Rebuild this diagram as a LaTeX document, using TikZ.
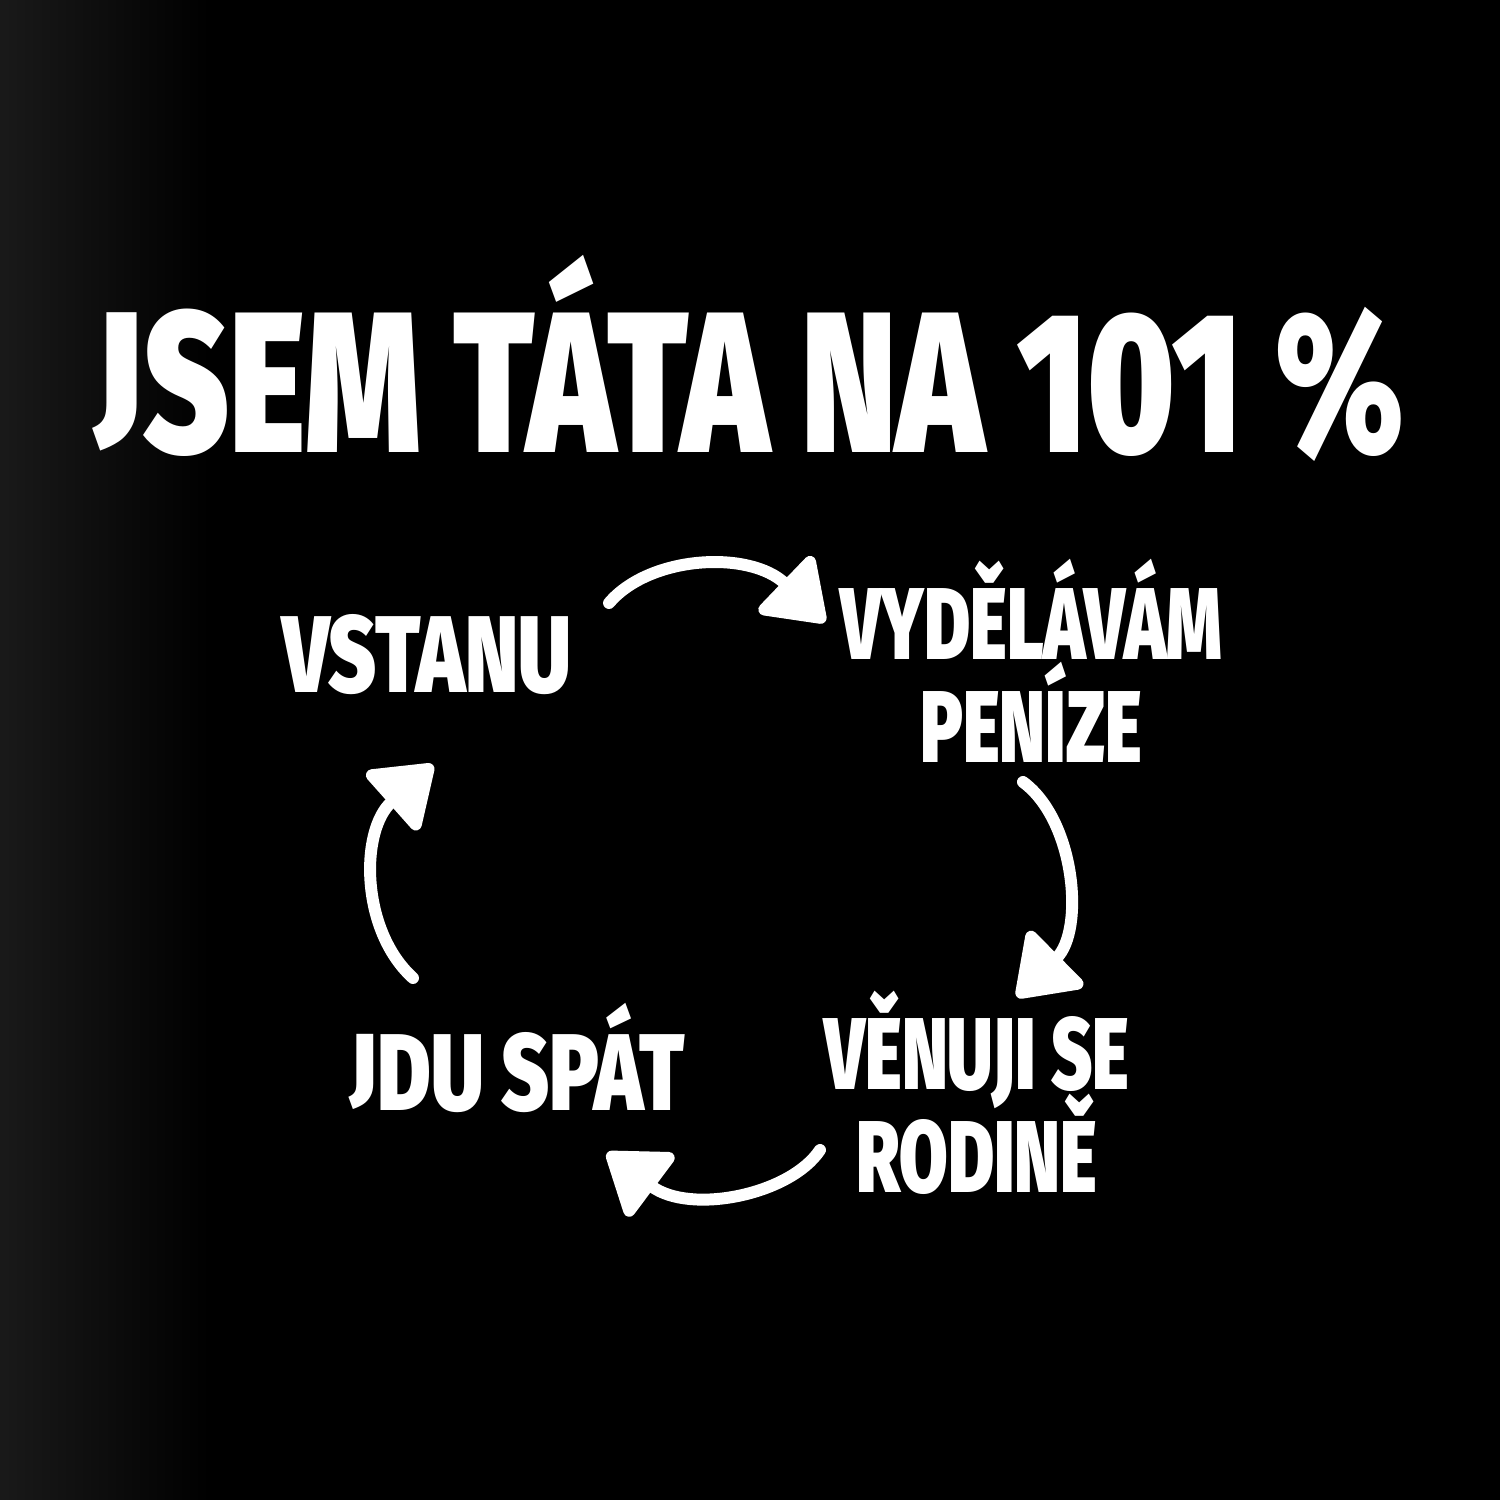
\documentclass[tikz,border=0pt]{standalone}
\usepackage{fontspec}
\newfontfamily\titlefont{Fira Sans Black}[FakeStretch=0.73]
\newfontfamily\posterfont{Fira Sans Black}[FakeStretch=0.75]
\newfontfamily\narrowfont{Fira Sans Black}[FakeStretch=0.69]
\newcommand\tightlines{\lineskiplimit-50pt\relax}
% Fira's J drops below the line, the poster's J does not
\newcommand\flatJ{\raisebox{0.153em}{\scalebox{1}[0.78]{J}}}
\usetikzlibrary{arrows.meta}
\usetikzlibrary{positioning}
\tikzstyle{headline} = [
    white,
    inner sep=0pt,
    anchor=base,
    font=\titlefont\fontsize{57pt}{57pt}\selectfont
]
\tikzstyle{stage_label} = [
    white,
    inner sep=0pt,
    anchor=base,
    font=\posterfont\fontsize{31pt}{31pt}\selectfont
]
\tikzstyle{stage_pair} = [
    white,
    inner sep=0pt,
    anchor=south,
    align=center,
    font=\narrowfont\fontsize{29pt}{29.2pt}\selectfont\tightlines
]
\tikzstyle{cycle_arrow} = [
    white,
    line width=3.4pt,
    line cap=round,
    -{Triangle[width=8.6mm, length=6.3mm, round, line width=3.4pt]}
]
\begin{document}
\begin{tikzpicture}[x=0.01cm, y=-0.01cm]
% background, a little lighter at the left edge
\fill[black] (0,0) rectangle (1500,1500);
\shade[left color=gray!20!black, right color=black] (0,0) rectangle (210,1500);
\useasboundingbox (0,0) rectangle (1500,1500);

\node [headline] (title) at (750,452) {\flatJ SEM TÁTA NA 101 \%};

\node [stage_label] (vstanu) at (427,692) {VSTANU};
\node [stage_pair] (vydelavam) at (1031,763) {VYDĚLÁVÁM\\PENÍZE};
\node [stage_pair] (venuji) at (977,1195) {VĚNUJI SE\\RODINĚ};
\node [stage_label] (jdu) at (518,1110) {\flatJ DU SPÁT};

% arrow ends
\coordinate (wake_out) at (609,603);
\coordinate (work_in)  at (825,622);
\coordinate (work_out) at (1023,782);
\coordinate (home_in)  at (1017,997);
\coordinate (home_out) at (820,1150);
\coordinate (sleep_in) at (607,1153);
\coordinate (sleep_out) at (413,978);
\coordinate (wake_in)  at (433,765);

\draw [cycle_arrow] (wake_out) .. controls (650,555) and (750,550) .. (work_in);
\draw [cycle_arrow] (work_out) .. controls (1075,820) and (1085,930) .. (home_in);
\draw [cycle_arrow] (home_out) .. controls (790,1195) and (690,1215) .. (sleep_in);
\draw [cycle_arrow] (sleep_out) .. controls (360,930) and (360,830) .. (wake_in);
\end{tikzpicture}
\end{document}
